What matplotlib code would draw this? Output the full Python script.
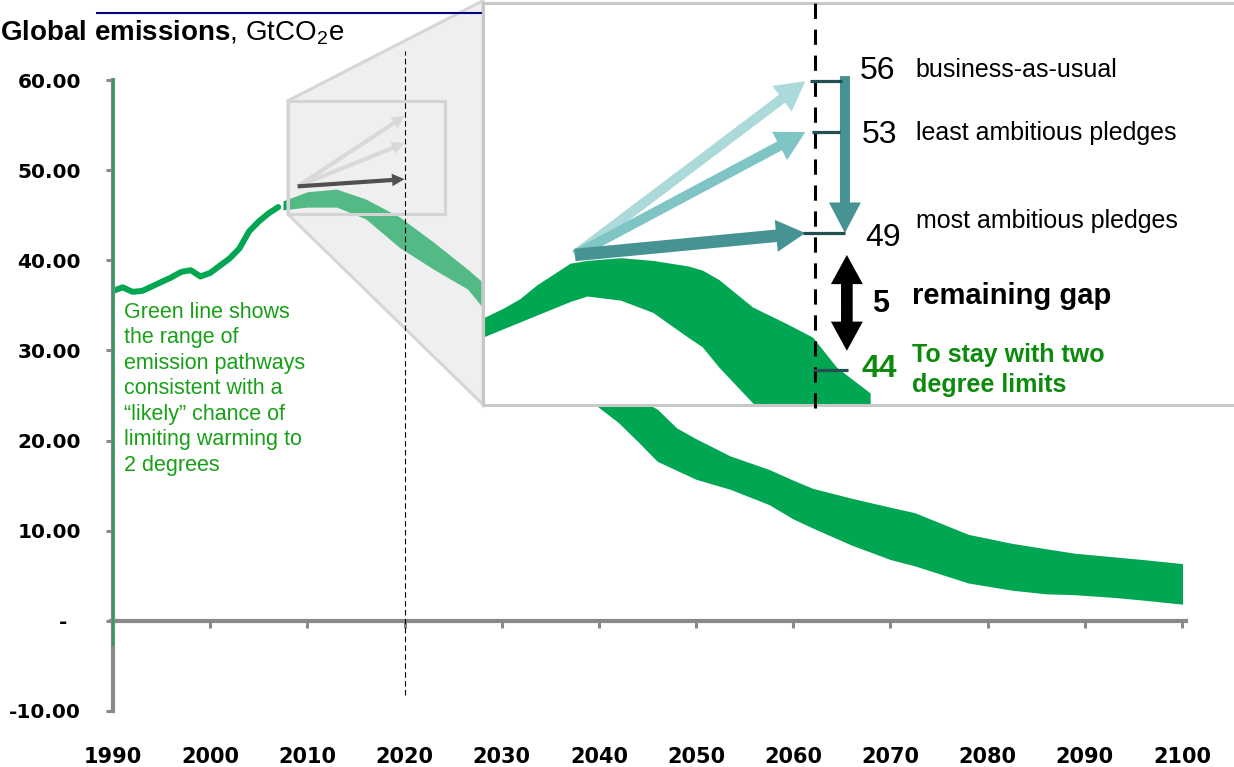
import numpy as np
import matplotlib.pyplot as plt
from matplotlib.patches import Polygon, Rectangle
from matplotlib.lines import Line2D
from matplotlib.ticker import NullLocator

plt.rcParams['font.family'] = ['Liberation Sans', 'DejaVu Sans']
plt.rcParams['mathtext.fontset'] = 'custom'
plt.rcParams['mathtext.rm'] = 'Liberation Sans'
plt.rcParams['mathtext.bf'] = 'Liberation Sans:bold'

# historical emissions, GtCO2e
hist_years = list(range(1990, 2008))
hist_vals = [36.6, 37.0, 36.5, 36.6, 37.1, 37.6, 38.1, 38.7, 38.9, 38.2,
             38.6, 39.4, 40.2, 41.3, 43.2, 44.3, 45.2, 45.9]

# range of 2 degree pathways
path_years = [2007.5, 2010, 2013, 2016, 2019.5, 2023, 2026.5, 2028, 2030, 2035,
              2039, 2042, 2044, 2046, 2048, 2050, 2053.5, 2057.5, 2060, 2062,
              2066, 2070, 2072.5, 2078, 2082.5, 2086, 2089, 2093, 2096, 2100.5]
path_high = [46.6, 47.6, 47.9, 46.8, 44.8, 42.0, 39.0, 37.6, 35.8, 31.0,
             27.6, 25.4, 24.6, 23.5, 21.4, 20.2, 18.3, 16.8, 15.6, 14.7,
             13.6, 12.6, 12.0, 9.6, 8.6, 8.0, 7.5, 7.1, 6.8, 6.3]
path_low = [45.6, 45.9, 45.9, 44.6, 41.4, 39.0, 36.8, 34.8, 32.8, 28.4,
            24.5, 22.0, 19.9, 17.7, 16.7, 15.7, 14.6, 12.9, 11.3, 10.3,
            8.4, 6.8, 6.1, 4.2, 3.4, 3.0, 2.9, 2.6, 2.3, 1.8]

# close-up around 2020
zoom_years = [2006.17, 2007.0, 2007.7, 2008.4, 2009.8, 2010.5, 2011.9, 2013.25,
              2014.7, 2015.3, 2016.0, 2017.4, 2018.8, 2019.9, 2020.9, 2022.3]
zoom_high = [45.9, 46.25, 46.6, 47.1, 47.9, 48.0, 48.1, 48.0,
             47.8, 47.65, 47.3, 46.3, 45.7, 45.2, 44.1, 43.16]
zoom_low = [45.2, 45.5, 45.75, 46.0, 46.5, 46.7, 46.55, 46.1,
            45.2, 44.85, 44.1, 42.8, 41.7, 41.0, 40.3, 39.5]

level_2010 = 48.2
pledge_vals = [56, 53, 49]
pledge_names = ["business-as-usual", "least ambitious pledges", "most ambitious pledges"]
target_2020 = 44
gap = pledge_vals[-1] - target_2020

x_ticks = list(range(1990, 2101, 10))
y_ticks = list(range(-10, 61, 10))
y_tick_labels = ["-10.00", "-  ", "10.00", "20.00", "30.00", "40.00", "50.00", "60.00"]

green = '#00a651'
axis_grey = '#8a8a8a'
teal_light = '#acd9d9'
teal_mid = '#7fc5c5'
teal_dark = '#479394'
mark_col = '#244f50'


def fat_arrow(a, start, end, color, tail, head_w, head_l, z=5):
    a.annotate('', xy=end, xytext=start, zorder=z,
               arrowprops=dict(arrowstyle=f'simple,head_length={head_l},head_width={head_w},tail_width={tail}',
                               mutation_scale=20, color=color, lw=0, shrinkA=0, shrinkB=0))


fig = plt.figure(figsize=(12.34, 7.67), dpi=100)
ax = fig.add_axes([113 / 1234, 1 - 711 / 767, 1069 / 1234, 631 / 767])
ax.set_xlim(1990, 2100)
ax.set_ylim(-10, 60)

ax.fill_between(path_years, path_low, path_high, color=green, lw=0, zorder=2)
ax.plot(hist_years, hist_vals, color=green, lw=4.3, solid_capstyle='round', zorder=2)
ax.plot([1990, 1990], [-2.7, 60], color='#2e9e5e', lw=1.6, clip_on=False, zorder=6)
ax.plot([2020, 2020], [-8.2, 63.2], color='black', lw=0.8, ls=(0, (5, 3)), clip_on=False, zorder=5)

# shaded zoom region leading to the close-up
zoom_outline = [(2008.0, 57.7), (2028.07, 68.8), (2028.07, 24.0), (2008.0, 45.1)]
ax.add_patch(Polygon(zoom_outline, closed=True, facecolor='#d8d8d8', alpha=0.39,
                     edgecolor='none', clip_on=False, zorder=3))
ax.add_patch(Polygon(zoom_outline, closed=True, facecolor='none', edgecolor='#d6d6d6',
                     lw=2.2, clip_on=False, zorder=3))
ax.add_patch(Rectangle((2008.0, 45.1), 16.2, 12.6, facecolor='none',
                       edgecolor='#d4d4d4', lw=2.2, zorder=3.5))
for v, c in zip(pledge_vals, ['#d9d9d9', '#d9d9d9', '#505050']):
    ax.annotate('', xy=(2020, v), xytext=(2009, level_2010), zorder=4,
                arrowprops=dict(arrowstyle='simple,head_length=0.6,head_width=0.6,tail_width=0.2',
                                mutation_scale=15, color=c, lw=0, shrinkA=0, shrinkB=0))

ax.text(1991.1, 35.4, "Green line shows\nthe range of\nemission pathways\nconsistent with a\n"
        "\u201clikely\u201d chance of\nlimiting warming to\n2 degrees",
        color='#17a017', fontsize=15.5, va='top', ha='left', linespacing=1.28)

for s in ['top', 'right']:
    ax.spines[s].set_visible(False)
ax.spines['left'].set_color(axis_grey)
ax.spines['left'].set_linewidth(3)
ax.spines['bottom'].set_position(('data', 0))
ax.spines['bottom'].set_color(axis_grey)
ax.spines['bottom'].set_linewidth(3)
ax.spines['bottom'].set_bounds(1989.8, 2100.4)
ax.set_xticks(x_ticks)
ax.set_xticklabels([str(y) for y in x_ticks])
ax.set_yticks(y_ticks)
ax.set_yticklabels(y_tick_labels)
ax.tick_params(axis='x', direction='out', length=5, width=2.2, color=axis_grey, pad=86, labelsize=15)
ax.tick_params(axis='y', direction='out', length=5, width=2.2, color=axis_grey, pad=18, labelsize=14.5)
for lab in ax.get_xticklabels() + ax.get_yticklabels():
    lab.set_fontweight('bold')
    lab.set_family('DejaVu Sans')

fig.text(0.0, 1 - 40 / 767, r"$\mathbf{Global}$ $\mathbf{emissions}$, GtCO$_\mathregular{2}$e",
         fontsize=20, va='baseline', ha='left')
fig.add_artist(Line2D([97 / 1234, 483 / 1234], [1 - 13 / 767] * 2, color='#000080', lw=1.5))

# close-up panel: uneven vertical scale around the 2020 levels
scale_v = [30, 44, 49, 53, 56, 70]
scale_u = [-753.6, -370, -233, -132, -81, 157]


def fwd(v):
    return np.interp(v, scale_v, scale_u)


def inv(u):
    return np.interp(u, scale_u, scale_v)


ax2 = fig.add_axes([483 / 1234, 1 - 405 / 767, 757 / 1234, 402 / 767], zorder=5)
ax2.set_yscale('function', functions=(fwd, inv))
ax2.set_xlim(2006.17, 2037.71)
ax2.set_ylim(42.72, 60.6)
for a in (ax2.xaxis, ax2.yaxis):
    a.set_major_locator(NullLocator())
    a.set_minor_locator(NullLocator())
for s in ['top', 'left', 'bottom']:
    ax2.spines[s].set_color('#c8c8c8')
    ax2.spines[s].set_linewidth(2.2)
ax2.spines['right'].set_visible(False)

ax2.fill_between(zoom_years, zoom_low, zoom_high, color=green, lw=0, zorder=2)
ax2.plot([2020, 2020], [42.6, 60.8], color='black', lw=2.2, ls=(0, (5, 3.5)), clip_on=False, zorder=3)

for v, c, tw in zip(pledge_vals, [teal_light, teal_mid, teal_dark], [0.36, 0.36, 0.45]):
    fat_arrow(ax2, (2010, level_2010), (2019.6, v), c, tw, 1.15, 1.05)
fat_arrow(ax2, (2021.25, 56.3), (2021.25, pledge_vals[-1]), teal_dark, 0.36, 1.15, 1.1)

mark_x = [(2019.79, 2021.13), (2019.875, 2021.04), (2019.5, 2021.25), (2019.92, 2021.375)]
for (x0, x1), v in zip(mark_x, pledge_vals + [target_2020]):
    ax2.plot([x0, x1], [v, v], color=mark_col, lw=2.3, solid_capstyle='butt', zorder=6)

gap_mid = 46.3
fat_arrow(ax2, (2021.33, gap_mid), (2021.33, 48.2), 'black', 0.42, 1.15, 1.05, z=6)
fat_arrow(ax2, (2021.33, gap_mid), (2021.33, 44.7), 'black', 0.42, 1.15, 1.05, z=6)

num_y = [56.12, 52.56, 48.53]
name_y = [56.24, 52.68, 49.2]
num_x = [2021.875, 2021.96, 2022.1]
for n, v, x, yn, yt in zip(pledge_names, pledge_vals, num_x, num_y, name_y):
    ax2.text(x, yn, str(v), fontsize=23, va='baseline', ha='left')
    ax2.text(2024.2, yt, n, fontsize=18, va='baseline', ha='left')

ax2.text(2022.4, 46.12, str(gap), fontsize=22, fontweight='bold', va='baseline', ha='left')
ax2.text(2024.04, 46.4, "remaining gap", fontsize=21, fontweight='bold', va='baseline', ha='left')
ax2.text(2021.96, 43.74, str(target_2020), fontsize=23, fontweight='bold', color='#0b8a0b',
         va='baseline', ha='left')
ax2.text(2024.04, 44.29, "To stay with two", fontsize=18, fontweight='bold', color='#0b8a0b',
         va='baseline', ha='left')
ax2.text(2024.04, 43.2, "degree limits", fontsize=18, fontweight='bold', color='#0b8a0b',
         va='baseline', ha='left')

fig.savefig('out.png', dpi=100)
